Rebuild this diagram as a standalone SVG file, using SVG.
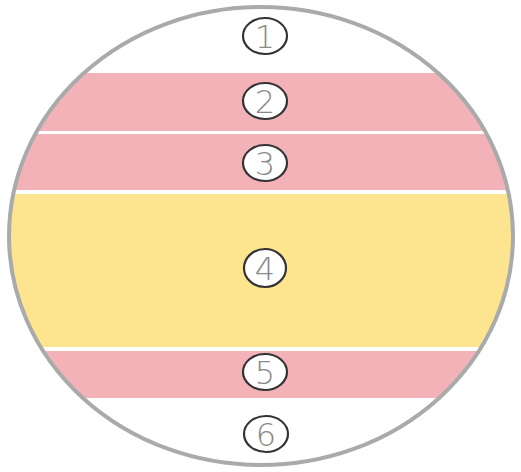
<svg xmlns="http://www.w3.org/2000/svg" width="521" height="472" viewBox="0 0 521 472">
<style>
.pink{fill:#f2b2b8}
.yellow{fill:#fde48e}
.mark{fill:#ffffff;stroke:#333333;stroke-width:2.2}
.num{font-family:"DejaVu Sans","Liberation Sans",sans-serif;font-weight:200;font-size:32px;fill:#8a8a8a;text-anchor:middle;dominant-baseline:central}
</style>
<defs>
<clipPath id="oval"><ellipse cx="261" cy="236" rx="252" ry="229"/></clipPath>
</defs>
<rect width="521" height="472" fill="#ffffff"/>
<g id="bands" clip-path="url(#oval)">
<rect class="pink" x="0" y="73" width="521" height="58"/>
<rect class="pink" x="0" y="134" width="521" height="56"/>
<rect class="yellow" x="0" y="194" width="521" height="153"/>
<rect class="pink" x="0" y="351" width="521" height="47"/>
</g>
<ellipse id="outline" cx="261" cy="236" rx="252" ry="229" fill="none" stroke="#a9abab" stroke-width="4"/>
<g id="n1"><ellipse class="mark" cx="265" cy="36" rx="22" ry="18"/><text class="num" x="265" y="37">1</text></g>
<g id="n2"><ellipse class="mark" cx="265" cy="101" rx="22" ry="18"/><text class="num" x="265" y="102">2</text></g>
<g id="n3"><ellipse class="mark" cx="265" cy="163" rx="22" ry="18"/><text class="num" x="265" y="164">3</text></g>
<g id="n4"><ellipse class="mark" cx="265" cy="268" rx="21" ry="19"/><text class="num" x="265" y="269">4</text></g>
<g id="n5"><ellipse class="mark" cx="265" cy="372" rx="22" ry="18"/><text class="num" x="265" y="373">5</text></g>
<g id="n6"><ellipse class="mark" cx="266" cy="434" rx="22" ry="18"/><text class="num" x="266" y="435">6</text></g>
</svg>
